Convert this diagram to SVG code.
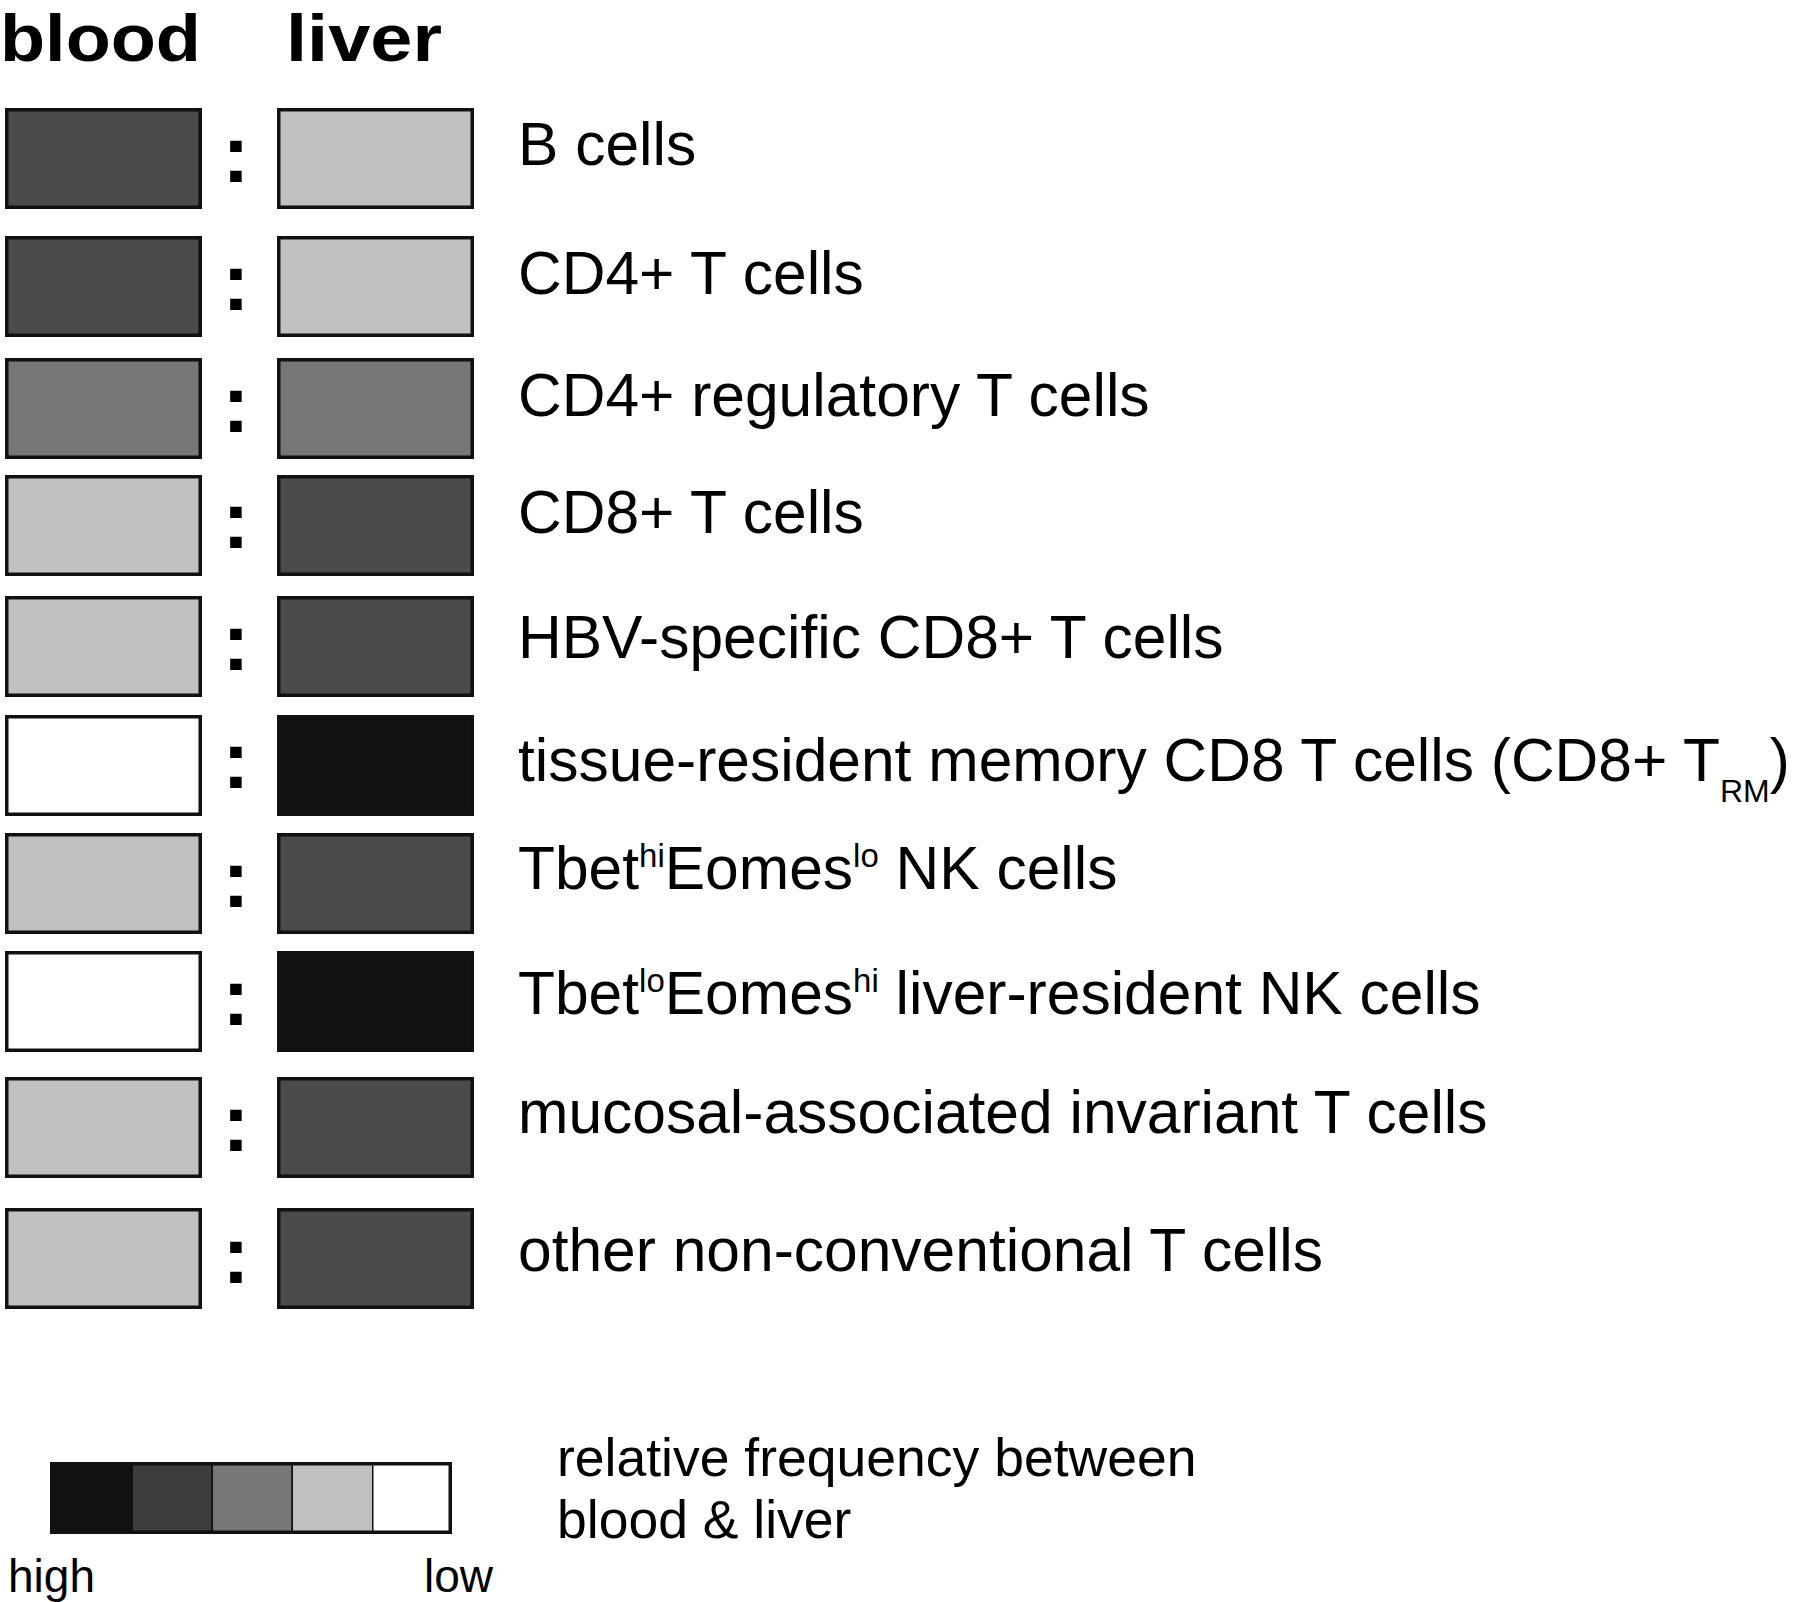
<svg xmlns="http://www.w3.org/2000/svg" width="1800" height="1602" viewBox="0 0 1800 1602">
<style>
text{font-family:"Liberation Sans",Arial,Helvetica,sans-serif;fill:#000}
.hd{font-size:67px;font-weight:bold}
.lb{font-size:60.5px}
.co{font-size:82px;font-weight:bold;text-anchor:middle}
.bx{stroke:#111;stroke-width:3.5}
.dk{fill:#4b4b4b}.lt{fill:#c0c0c0}.md{fill:#767676}.bk{fill:#121212}.wh{fill:#fff}
.lg{font-size:53.5px}
.hl{font-size:46px}
</style>
<rect width="1800" height="1602" fill="#fff"/>
<g id="headers">
<text class="hd" x="0" y="61" textLength="201" lengthAdjust="spacingAndGlyphs">blood</text>
<text class="hd" x="286" y="61" textLength="156" lengthAdjust="spacingAndGlyphs">liver</text>
</g>
<g id="connectors"></g>
<g id="row-b-cells">
<rect class="bx dk" x="6.75" y="109.75" width="193.5" height="97.5"/>
<text class="co" x="236" y="182">:</text>
<rect class="bx lt" x="278.75" y="109.75" width="193.5" height="97.5"/>
<text class="lb" x="518" y="165">B cells</text>
</g>
<g id="row-cd4-t-cells">
<rect class="bx dk" x="6.75" y="237.75" width="193.5" height="97.5"/>
<text class="co" x="236" y="310">:</text>
<rect class="bx lt" x="278.75" y="237.75" width="193.5" height="97.5"/>
<text class="lb" x="518" y="294">CD4+ T cells</text>
</g>
<g id="row-cd4-treg">
<rect class="bx md" x="6.75" y="359.75" width="193.5" height="97.5"/>
<text class="co" x="236" y="432">:</text>
<rect class="bx md" x="278.75" y="359.75" width="193.5" height="97.5"/>
<text class="lb" x="518" y="416">CD4+ regulatory T cells</text>
</g>
<g id="row-cd8-t-cells">
<rect class="bx lt" x="6.75" y="476.75" width="193.5" height="97.5"/>
<text class="co" x="236" y="548">:</text>
<rect class="bx dk" x="278.75" y="476.75" width="193.5" height="97.5"/>
<text class="lb" x="518" y="533">CD8+ T cells</text>
</g>
<g id="row-hbv-cd8">
<rect class="bx lt" x="6.75" y="597.75" width="193.5" height="97.5"/>
<text class="co" x="236" y="670">:</text>
<rect class="bx dk" x="278.75" y="597.75" width="193.5" height="97.5"/>
<text class="lb" x="518" y="658">HBV-specific CD8+ T cells</text>
</g>
<g id="row-cd8-trm">
<rect class="bx wh" x="6.75" y="716.75" width="193.5" height="97.5"/>
<text class="co" x="236" y="788">:</text>
<rect class="bx bk" x="278.75" y="716.75" width="193.5" height="97.5"/>
<text class="lb" x="518" y="781">tissue-resident memory CD8 T cells (CD8+ T<tspan font-size="32" dy="21">RM</tspan><tspan dy="-21">)</tspan></text>
</g>
<g id="row-tbethi-nk">
<rect class="bx lt" x="6.75" y="834.75" width="193.5" height="97.5"/>
<text class="co" x="236" y="907">:</text>
<rect class="bx dk" x="278.75" y="834.75" width="193.5" height="97.5"/>
<text class="lb" x="518" y="889">Tbet<tspan font-size="33" dy="-22">hi</tspan><tspan dy="22">Eomes</tspan><tspan font-size="33" dy="-22">lo</tspan><tspan dy="22"> NK cells</tspan></text>
</g>
<g id="row-tbetlo-lrnk">
<rect class="bx wh" x="6.75" y="952.75" width="193.5" height="97.5"/>
<text class="co" x="236" y="1025">:</text>
<rect class="bx bk" x="278.75" y="952.75" width="193.5" height="97.5"/>
<text class="lb" x="518" y="1014">Tbet<tspan font-size="33" dy="-22">lo</tspan><tspan dy="22">Eomes</tspan><tspan font-size="33" dy="-22">hi</tspan><tspan dy="22"> liver-resident NK cells</tspan></text>
</g>
<g id="row-mait">
<rect class="bx lt" x="6.75" y="1078.75" width="193.5" height="97.5"/>
<text class="co" x="236" y="1151">:</text>
<rect class="bx dk" x="278.75" y="1078.75" width="193.5" height="97.5"/>
<text class="lb" x="518" y="1133">mucosal-associated invariant T cells</text>
</g>
<g id="row-other">
<rect class="bx lt" x="6.75" y="1209.75" width="193.5" height="97.5"/>
<text class="co" x="236" y="1283">:</text>
<rect class="bx dk" x="278.75" y="1209.75" width="193.5" height="97.5"/>
<text class="lb" x="518" y="1271">other non-conventional T cells</text>
</g>
<g id="legend">
<rect x="51.75" y="1463.75" width="80.5" height="68.5" fill="#111" stroke="#111" stroke-width="1.5"/>
<rect x="132.25" y="1463.75" width="80" height="68.5" fill="#3c3c3c" stroke="#111" stroke-width="1.5"/>
<rect x="212.25" y="1463.75" width="80" height="68.5" fill="#777" stroke="#111" stroke-width="1.5"/>
<rect x="292.25" y="1463.75" width="80.5" height="68.5" fill="#c0c0c0" stroke="#111" stroke-width="1.5"/>
<rect x="372.75" y="1463.75" width="77.5" height="68.5" fill="#fff" stroke="#111" stroke-width="1.5"/>
<rect x="51.75" y="1463.75" width="398.5" height="68.5" fill="none" stroke="#111" stroke-width="3.5"/>
<text class="hl" x="8" y="1592">high</text>
<text class="hl" x="424" y="1592">low</text>
<text class="lg" x="557" y="1476">relative frequency between</text>
<text class="lg" x="557" y="1538">blood &amp; liver</text>
</g>
</svg>
